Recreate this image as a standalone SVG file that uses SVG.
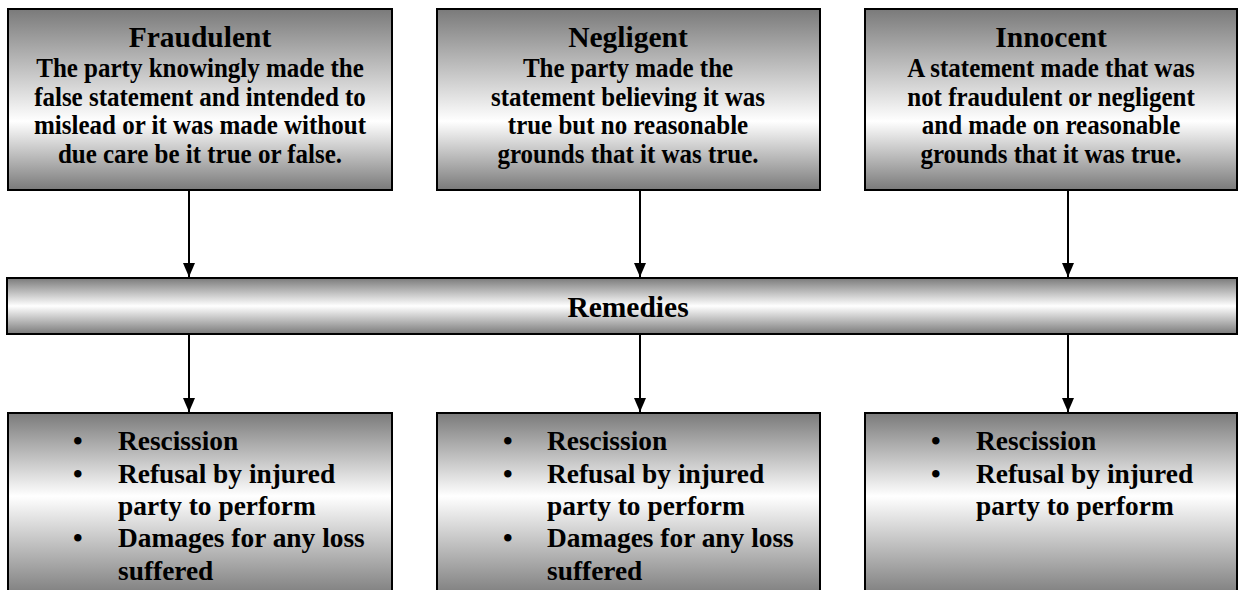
<svg xmlns="http://www.w3.org/2000/svg" width="1239" height="590" viewBox="0 0 1239 590">
<defs>
<linearGradient id="gTop" x1="0" y1="0" x2="0" y2="1">
<stop offset="0" stop-color="#7a7a7a"/>
<stop offset="0.62" stop-color="#ffffff"/>
<stop offset="1" stop-color="#7a7a7a"/>
</linearGradient>
<linearGradient id="gBar" x1="0" y1="0" x2="0" y2="1">
<stop offset="0" stop-color="#7a7a7a"/>
<stop offset="0.5" stop-color="#ffffff"/>
<stop offset="1" stop-color="#7a7a7a"/>
</linearGradient>
<linearGradient id="gBot" x1="0" y1="0" x2="0" y2="1">
<stop offset="0" stop-color="#7a7a7a"/>
<stop offset="0.45" stop-color="#ffffff"/>
<stop offset="1" stop-color="#7a7a7a"/>
</linearGradient>
<marker id="arr" markerWidth="14" markerHeight="12" refX="14" refY="6" orient="auto" markerUnits="userSpaceOnUse" viewBox="0 0 14 12">
<path d="M0,0 L14,6 L0,12 Z" fill="#000"/>
</marker>
</defs>
<style>
.box{stroke:#000;stroke-width:2}
text{font-family:"Liberation Serif","Times New Roman",serif;font-weight:bold;fill:#000}
.t{font-size:29.5px;text-anchor:middle}
.b{font-size:25px;text-anchor:middle}
.r{font-size:29.5px;text-anchor:middle}
.l{font-size:27.4px}
.conn line{stroke:#000;stroke-width:2}
</style>

<g id="fraudulent">
<rect class="box" x="8" y="9" width="384" height="181" fill="url(#gTop)"/>
<text class="t" x="200" y="47">Fraudulent</text>
<text class="b" transform="matrix(1 0 0 1.08 200 77)">The party knowingly made the</text>
<text class="b" transform="matrix(1 0 0 1.08 200 106)">false statement and intended to</text>
<text class="b" transform="matrix(1 0 0 1.08 200 134)">mislead or it was made without</text>
<text class="b" transform="matrix(1 0 0 1.08 200 163)">due care be it true or false.</text>
</g>

<g id="negligent">
<rect class="box" x="437" y="9" width="383" height="181" fill="url(#gTop)"/>
<text class="t" x="628" y="47">Negligent</text>
<text class="b" transform="matrix(1 0 0 1.08 628 77)">The party made the</text>
<text class="b" transform="matrix(1 0 0 1.08 628 106)">statement believing it was</text>
<text class="b" transform="matrix(1 0 0 1.08 628 134)">true but no reasonable</text>
<text class="b" transform="matrix(1 0 0 1.08 628 163)">grounds that it was true.</text>
</g>

<g id="innocent">
<rect class="box" x="865" y="9" width="372" height="181" fill="url(#gTop)"/>
<text class="t" x="1051" y="47">Innocent</text>
<text class="b" transform="matrix(1 0 0 1.08 1051 77)">A statement made that was</text>
<text class="b" transform="matrix(1 0 0 1.08 1051 106)">not fraudulent or negligent</text>
<text class="b" transform="matrix(1 0 0 1.08 1051 134)">and made on reasonable</text>
<text class="b" transform="matrix(1 0 0 1.08 1051 163)">grounds that it was true.</text>
</g>

<g id="remedies">
<rect class="box" x="7" y="278" width="1230" height="56" fill="url(#gBar)"/>
<text class="r" x="628" y="317">Remedies</text>
</g>

<g id="remedies-fraudulent">
<rect class="box" x="8" y="413" width="384" height="185" fill="url(#gBot)"/>
<text class="l" x="73" y="450">•</text>
<text class="l" x="118" y="450">Rescission</text>
<text class="l" x="73" y="483">•</text>
<text class="l" x="118" y="483">Refusal by injured</text>
<text class="l" x="118" y="515">party to perform</text>
<text class="l" x="73" y="547">•</text>
<text class="l" x="118" y="547">Damages for any loss</text>
<text class="l" x="118" y="580">suffered</text>
</g>

<g id="remedies-negligent">
<rect class="box" x="437" y="413" width="383" height="185" fill="url(#gBot)"/>
<text class="l" x="503" y="450">•</text>
<text class="l" x="547" y="450">Rescission</text>
<text class="l" x="503" y="483">•</text>
<text class="l" x="547" y="483">Refusal by injured</text>
<text class="l" x="547" y="515">party to perform</text>
<text class="l" x="503" y="547">•</text>
<text class="l" x="547" y="547">Damages for any loss</text>
<text class="l" x="547" y="580">suffered</text>
</g>

<g id="remedies-innocent">
<rect class="box" x="865" y="413" width="372" height="185" fill="url(#gBot)"/>
<text class="l" x="931" y="450">•</text>
<text class="l" x="976" y="450">Rescission</text>
<text class="l" x="931" y="483">•</text>
<text class="l" x="976" y="483">Refusal by injured</text>
<text class="l" x="976" y="515">party to perform</text>
</g>

<g id="connectors" class="conn">
<line x1="189" y1="191" x2="189" y2="277" marker-end="url(#arr)"/>
<line x1="640" y1="191" x2="640" y2="277" marker-end="url(#arr)"/>
<line x1="1068" y1="191" x2="1068" y2="277" marker-end="url(#arr)"/>
<line x1="189" y1="335" x2="189" y2="412" marker-end="url(#arr)"/>
<line x1="640" y1="335" x2="640" y2="412" marker-end="url(#arr)"/>
<line x1="1068" y1="335" x2="1068" y2="412" marker-end="url(#arr)"/>
</g>
</svg>
